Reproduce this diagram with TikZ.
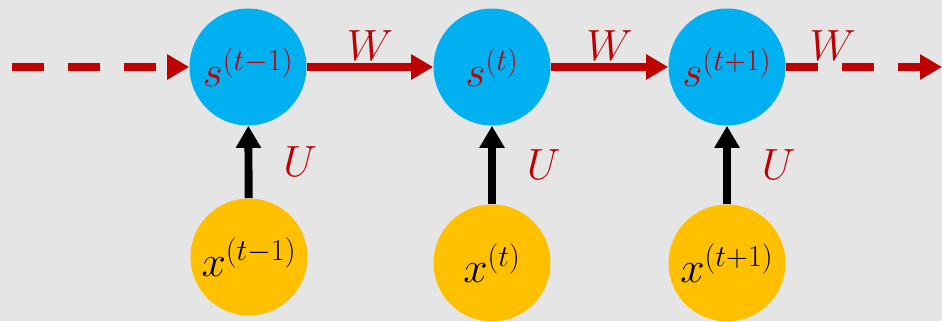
\documentclass[tikz,border=0pt]{standalone}
\usetikzlibrary{arrows.meta, positioning}
\definecolor{hblue}{HTML}{00B0F0}
\definecolor{xyellow}{HTML}{FFC000}
\definecolor{wred}{HTML}{C00000}

\begin{document}
\begin{tikzpicture}[
    x=0.02cm, y=-0.02cm,
    hid/.style={circle, fill=hblue, minimum size=2.34cm, inner sep=0pt, text=wred, font=\fontsize{24}{28}\selectfont},
    inp/.style={circle, fill=xyellow, minimum size=2.34cm, inner sep=0pt, text=black, font=\fontsize{24}{28}\selectfont},
    rec/.style={-{Triangle[length=0.44cm, width=0.48cm]}, line width=5pt, draw=wred},
    inarr/.style={-{Triangle[length=0.44cm, width=0.48cm]}, line width=4.5pt, draw=black},
    lbl/.style={text=wred, font=\fontsize{24}{28}\selectfont}
]

% background
\useasboundingbox (0,0) rectangle (942,321);
\fill[gray!20] (0,0) rectangle (942,321);

% hidden states
\node[hid] (s1) at (248,67) {$s^{(t-1)}$};
\node[hid] (s2) at (492,67) {$s^{(t)}$};
\node[hid] (s3) at (727,67) {$s^{(t+1)}$};

% inputs
\node[inp] (x1) at (249,257) {$x^{(t-1)}$};
\node[inp] (x2) at (492,263) {$x^{(t)}$};
\node[inp] (x3) at (727,263) {$x^{(t+1)}$};

% free ends of the chain
\coordinate (start) at (12,67);
\coordinate (end) at (942,67);

% recurrent edges
\draw[rec, dash pattern=on 0.64cm off 0.48cm] (start) -- (s1);
\draw[rec] (s1) -- node[lbl, above, inner sep=1pt] {$W$} (s2);
\draw[rec] (s2) -- node[lbl, above, inner sep=1pt] {$W$} (s3);
\draw[rec, dash pattern=on 0.64cm off 0.48cm] (s3) -- node[lbl, pos=0.3, above, inner sep=1pt] {$W$} (end);

% input edges
\draw[inarr] (x1) -- node[lbl, midway, right=0.5cm] {$U$} (s1);
\draw[inarr] (x2) -- node[lbl, midway, right=0.5cm] {$U$} (s2);
\draw[inarr] (x3) -- node[lbl, midway, right=0.5cm] {$U$} (s3);

\end{tikzpicture}
\end{document}
